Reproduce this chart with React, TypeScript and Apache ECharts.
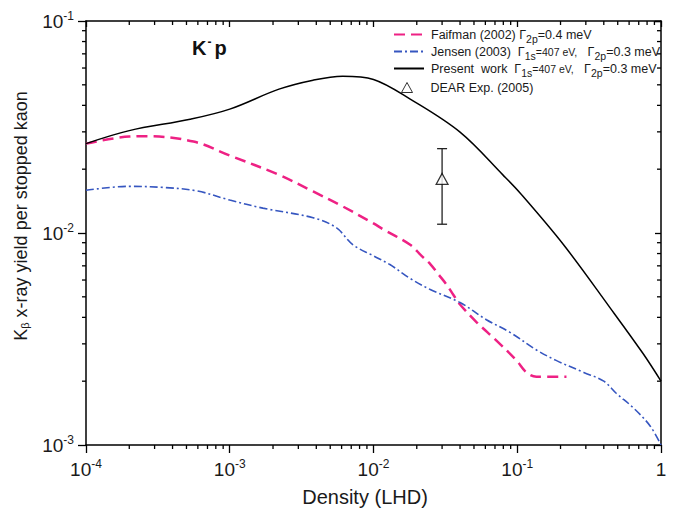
import React, { useEffect, useRef } from "react";
import * as echarts from "echarts";

const FONT = "Liberation Sans, Arial, Helvetica, sans-serif";

const X_MIN = 1e-4;
const X_MAX = 1;
const Y_MIN = 1e-3;
const Y_MAX = 1e-1;

// Present work
const presentX = [1e-4, 2e-4, 5.3e-4, 1e-3, 2.2e-3, 3.8e-3, 6.1e-3, 1e-2, 1.8e-2, 4e-2, 8e-2, 0.105, 0.21, 0.44, 0.75, 1];
const presentY = [0.0264, 0.0304, 0.0344, 0.0384, 0.0477, 0.0526, 0.0549, 0.053, 0.0428, 0.0299, 0.0187, 0.0154, 0.0088, 0.00446, 0.0027, 0.002];

// Faifman (2002)
const faifmanX = [1e-4, 2e-4, 2.6e-4, 5.6e-4, 1e-3, 2.2e-3, 3.8e-3, 5.8e-3, 1e-2, 1.17e-2, 1.8e-2, 2.16e-2, 2.5e-2, 2.82e-2, 3.23e-2, 3.6e-2, 4e-2, 5.2e-2, 7.2e-2, 9.9e-2, 0.116, 0.136, 0.22];
const faifmanY = [0.0264, 0.0285, 0.0286, 0.027, 0.0232, 0.0188, 0.0157, 0.0136, 0.0111, 0.0104, 0.0088, 0.0078, 0.0071, 0.0064, 0.0057, 0.0051, 0.0046, 0.0038, 0.0031, 0.0025, 0.0022, 0.0021, 0.0021];

// Jensen (2003)
const jensenX = [1e-4, 2e-4, 3.45e-4, 5.9e-4, 1e-3, 1.7e-3, 3.8e-3, 5.5e-3, 7.2e-3, 1e-2, 1.3e-2, 1.8e-2, 2.5e-2, 4e-2, 6.1e-2, 8.9e-2, 0.137, 0.188, 0.29, 0.4, 0.49, 0.64, 0.84, 1];
const jensenY = [0.0159, 0.0166, 0.0164, 0.0158, 0.0143, 0.0131, 0.0118, 0.0106, 0.0088, 0.0078, 0.0071, 0.0061, 0.0054, 0.0047, 0.0039, 0.0034, 0.0028, 0.0025, 0.0022, 0.002, 0.00175, 0.0015, 0.00123, 0.001];

// DEAR Exp. (2005)
const dearX = [0.03];
const dearY = [0.018];
const dearLow = [0.011];
const dearHigh = [0.025];

// minor ticks
const minorMantissas = [2, 3, 4, 5, 6, 7, 8, 9];
const xDecades = [1e-4, 1e-3, 1e-2, 1e-1];
const yDecades = [1e-3, 1e-2];

const PINK = "#ee2184";
const BLUE = "#3656c0";
const INK = "#1a1a1a";

const NB = "\u00a0";

const legendText: Record<string, string> = {
  "Faifman (2002)": `{n|Faifman (2002) Γ}{s|2p}{n|=0.4 meV}`,
  "Jensen (2003)": `{n|Jensen (2003)${NB}${NB}Γ}{s|1s}{m|=407 eV,}{n|${NB}${NB}${NB}Γ}{s|2p}{n|=0.3 meV}`,
  "Present work": `{n|Present${NB}${NB}work${NB}${NB}Γ}{s|1s}{m|=407 eV,}{n|${NB}${NB}${NB}Γ}{s|2p}{n|=0.3 meV}`,
  "DEAR Exp. (2005)": `{n|DEAR Exp. (2005)}`,
};

const legendRich = {
  n: { fontSize: 12.5, lineHeight: 14, fontFamily: FONT, color: INK },
  s: { fontSize: 10.5, lineHeight: 14, fontFamily: FONT, color: INK, padding: [8, 0, 0, 0] },
  m: { fontSize: 10.5, lineHeight: 14, fontFamily: FONT, color: INK },
};

const powLabel = (v: number) => {
  const e = Math.round(Math.log10(v));
  return e === 0 ? "{b|1}" : `{b|10}{sup|${e}}`;
};

const tickRich = {
  b: { fontSize: 19, lineHeight: 22, fontFamily: FONT, color: INK },
  sup: { fontSize: 12, lineHeight: 22, fontFamily: FONT, color: INK, padding: [0, 0, 11, 0] },
};

export default function App() {
  const ref = useRef<HTMLDivElement>(null);

  useEffect(() => {
    if (!ref.current) return;
    const chart = echarts.init(ref.current, undefined, { renderer: "svg" });

    const xMinor: number[][] = [];
    xDecades.forEach((d) => minorMantissas.forEach((m) => xMinor.push([m * d, Y_MIN])));
    const yMinor: number[][] = [];
    yDecades.forEach((d) => minorMantissas.forEach((m) => yMinor.push([X_MIN, m * d])));

    const tickStyle = { stroke: "#000", lineWidth: 1.3 };

    const option: any = {
      animation: false,
      backgroundColor: "#fff",
      grid: { left: 86, right: 12, top: 21, bottom: 63, containLabel: false },
      title: {
        text: "K{sup|-}p",
        left: 192,
        top: 36,
        padding: 0,
        textStyle: {
          fontSize: 20,
          fontWeight: "bold",
          fontFamily: FONT,
          color: "#111",
          rich: {
            sup: { fontSize: 12, fontWeight: "bold", fontFamily: FONT, color: "#111", padding: [0, 3, 12, 1] },
          },
        },
      },
      legend: [
        {
          data: ["Faifman (2002)", "Jensen (2003)", "Present work"],
          orient: "vertical",
          left: 393,
          top: 25,
          padding: 0,
          itemWidth: 30,
          itemHeight: 14,
          itemGap: -2,
          selectedMode: false,
          itemStyle: { opacity: 0 },
          formatter: (name: string) => legendText[name],
          textStyle: { fontSize: 12.5, lineHeight: 14, fontFamily: FONT, color: INK, padding: [0, 0, 0, 2], rich: legendRich },
        },
        {
          data: ["DEAR Exp. (2005)"],
          orient: "vertical",
          left: 401,
          top: 80.5,
          padding: 0,
          itemWidth: 11,
          itemHeight: 10,
          selectedMode: false,
          formatter: (name: string) => legendText[name],
          itemStyle: { color: "#fff", borderColor: "#000", borderWidth: 1 },
          textStyle: { fontSize: 12.5, lineHeight: 14, fontFamily: FONT, color: INK, padding: [0, 0, 0, 13], rich: legendRich },
        },
      ],
      xAxis: [
        {
          type: "log",
          logBase: 10,
          min: X_MIN,
          max: X_MAX,
          position: "bottom",
          name: "Density (LHD)",
          nameLocation: "middle",
          nameGap: 42,
          nameTextStyle: { fontSize: 20, fontFamily: FONT, color: INK, verticalAlign: "top", padding: [0, 17, 0, 0] },
          axisLine: { lineStyle: { color: "#000", width: 1.5 } },
          axisTick: { show: true, inside: false, length: 8, lineStyle: { color: "#000", width: 1.3 } },
          axisLabel: { margin: 13, formatter: powLabel, rich: tickRich, showMinLabel: true, showMaxLabel: true },
          splitLine: { show: false },
        },
        {
          type: "log",
          logBase: 10,
          min: X_MIN,
          max: X_MAX,
          position: "top",
          axisLine: { lineStyle: { color: "#000", width: 1.5 } },
          axisTick: { show: true, inside: true, length: 6, lineStyle: { color: "#000", width: 1.3 } },
          axisLabel: { show: false },
          splitLine: { show: false },
        },
      ],
      yAxis: [
        {
          type: "log",
          logBase: 10,
          min: Y_MIN,
          max: Y_MAX,
          position: "left",
          name: "K{s|β} x-ray yield per stopped kaon",
          nameLocation: "middle",
          nameGap: 40,
          nameTextStyle: {
            fontSize: 18,
            lineHeight: 20,
            fontFamily: FONT,
            color: INK,
            padding: [0, 0, 0, 34],
            rich: {
              s: { fontSize: 11, lineHeight: 20, fontFamily: FONT, color: INK, padding: [8, 0, 0, 0] },
            },
          },
          axisLine: { lineStyle: { color: "#000", width: 1.5 } },
          axisTick: { show: true, inside: false, length: 8, lineStyle: { color: "#000", width: 1.3 } },
          axisLabel: { margin: 12, formatter: powLabel, rich: tickRich, showMinLabel: true, showMaxLabel: true },
          splitLine: { show: false },
        },
        {
          type: "log",
          logBase: 10,
          min: Y_MIN,
          max: Y_MAX,
          position: "right",
          axisLine: { lineStyle: { color: "#000", width: 1.5 } },
          axisTick: { show: true, inside: true, length: 6, lineStyle: { color: "#000", width: 1.3 } },
          axisLabel: { show: false },
          splitLine: { show: false },
        },
      ],
      series: [
        {
          name: "Faifman (2002)",
          type: "line",
          xAxisIndex: 0,
          yAxisIndex: 0,
          data: faifmanX.map((x, i) => [x, faifmanY[i]]),
          symbol: "none",
          smooth: 0.35,
          lineStyle: { color: PINK, width: 2.5, type: [11, 6] },
          itemStyle: { color: PINK },
          z: 3,
        },
        {
          name: "Jensen (2003)",
          type: "line",
          xAxisIndex: 0,
          yAxisIndex: 0,
          data: jensenX.map((x, i) => [x, jensenY[i]]),
          symbol: "none",
          smooth: 0.35,
          lineStyle: { color: BLUE, width: 1.6, type: [8, 3, 2, 3] },
          itemStyle: { color: BLUE },
          z: 3,
        },
        {
          name: "Present work",
          type: "line",
          xAxisIndex: 0,
          yAxisIndex: 0,
          data: presentX.map((x, i) => [x, presentY[i]]),
          symbol: "none",
          smooth: 0.35,
          lineStyle: { color: "#000", width: 1.5 },
          itemStyle: { color: "#000" },
          z: 4,
        },
        {
          name: "DEAR error",
          type: "custom",
          xAxisIndex: 0,
          yAxisIndex: 0,
          clip: false,
          encode: { x: 0, y: [1, 2] },
          data: dearX.map((x, i) => [x, dearLow[i], dearHigh[i]]),
          renderItem: (params: any, api: any) => {
            const x = api.value(0);
            const pL = api.coord([x, api.value(1)]);
            const pH = api.coord([x, api.value(2)]);
            const w = 5;
            const st = { stroke: "#222", lineWidth: 1.3 };
            return {
              type: "group",
              children: [
                { type: "line", shape: { x1: pL[0], y1: pL[1], x2: pH[0], y2: pH[1] }, style: st },
                { type: "line", shape: { x1: pH[0] - w, y1: pH[1], x2: pH[0] + w, y2: pH[1] }, style: st },
                { type: "line", shape: { x1: pL[0] - w, y1: pL[1], x2: pL[0] + w, y2: pL[1] }, style: st },
              ],
            };
          },
          z: 5,
        },
        {
          name: "DEAR Exp. (2005)",
          type: "scatter",
          xAxisIndex: 0,
          yAxisIndex: 0,
          data: dearX.map((x, i) => [x, dearY[i]]),
          symbol: "triangle",
          symbolSize: [12, 11],
          itemStyle: { color: "#fff", borderColor: "#000", borderWidth: 1.2 },
          z: 6,
        },
        {
          name: "x minor ticks",
          type: "custom",
          xAxisIndex: 0,
          yAxisIndex: 0,
          clip: false,
          silent: true,
          data: xMinor,
          renderItem: (params: any, api: any) => {
            const v = api.value(0);
            const pB = api.coord([v, Y_MIN]);
            const pT = api.coord([v, Y_MAX]);
            return {
              type: "group",
              children: [
                { type: "line", shape: { x1: pB[0], y1: pB[1], x2: pB[0], y2: pB[1] + 4 }, style: tickStyle },
                { type: "line", shape: { x1: pT[0], y1: pT[1], x2: pT[0], y2: pT[1] + 4 }, style: tickStyle },
              ],
            };
          },
          z: 2,
        },
        {
          name: "y minor ticks",
          type: "custom",
          xAxisIndex: 0,
          yAxisIndex: 0,
          clip: false,
          silent: true,
          data: yMinor,
          renderItem: (params: any, api: any) => {
            const v = api.value(1);
            const pL = api.coord([X_MIN, v]);
            const pR = api.coord([X_MAX, v]);
            return {
              type: "group",
              children: [
                { type: "line", shape: { x1: pL[0], y1: pL[1], x2: pL[0] - 4, y2: pL[1] }, style: tickStyle },
                { type: "line", shape: { x1: pR[0], y1: pR[1], x2: pR[0] - 4, y2: pR[1] }, style: tickStyle },
              ],
            };
          },
          z: 2,
        },
      ],
    };

    chart.setOption(option);
    return () => chart.dispose();
  }, []);

  return <div ref={ref} style={{ width: 673, height: 512, position: "absolute", left: 0, top: 0 }} />;
}
